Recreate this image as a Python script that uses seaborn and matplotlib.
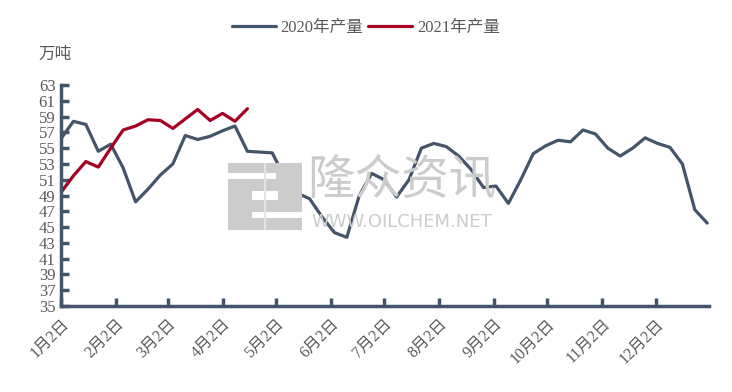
import matplotlib
matplotlib.use("Agg")
import matplotlib.pyplot as plt
import seaborn as sns
import pandas as pd
from matplotlib.patches import Rectangle

# weekly production, 万吨 (x = days since 1月2日)
weeks_2020 = list(range(0, 365, 7))
prod_2020 = [
    56.2, 58.4, 58.0, 54.6, 55.5, 52.5, 48.2, 49.8, 51.6, 53.0,
    56.6, 56.1, 56.5, 57.2, 57.8, 54.6, 54.5, 54.4, 51.3, 49.3,
    48.6, 46.3, 44.3, 43.7, 49.0, 51.8, 51.0, 48.8, 51.0, 55.0,
    55.6, 55.2, 54.0, 52.3, 50.0, 50.2, 48.0, 51.0, 54.3, 55.3,
    56.0, 55.8, 57.3, 56.8, 55.0, 54.0, 55.0, 56.3, 55.6, 55.1,
    53.0, 47.2, 45.5,
]
prod_2021 = [
    49.4, 51.5, 53.3, 52.6, 55.0, 57.3, 57.8, 58.6, 58.5, 57.5,
    58.7, 59.9, 58.5, 59.4, 58.4, 60.0,
]
weeks_2021 = weeks_2020[:len(prod_2021)]

tick_days = [0, 31, 60, 91, 121, 152, 182, 213, 244, 274, 305, 335]
tick_labels = ["1月2日", "2月2日", "3月2日", "4月2日", "5月2日", "6月2日",
               "7月2日", "8月2日", "9月2日", "10月2日", "11月2日", "12月2日"]
y_ticks = list(range(35, 64, 2))

series_names = ["2020年产量", "2021年产量"]
colors = ["#44546A", "#A50021"]

df = pd.concat([
    pd.DataFrame({"day": weeks_2020, "value": prod_2020, "series": series_names[0]}),
    pd.DataFrame({"day": weeks_2021, "value": prod_2021, "series": series_names[1]}),
])

sns.set_theme(style="white")
plt.rcParams["font.family"] = ["Liberation Serif", "Noto Sans CJK SC", "DejaVu Sans"]

W, H = 732, 392
fig = plt.figure(figsize=(W / 100, H / 100), dpi=100)
ax = fig.add_axes([61 / W, 86 / H, 648 / W, 221 / H])


def px_rect(x0, y0, x1, y1, color):
    # rectangle given in image pixels (origin top-left)
    fig.patches.append(Rectangle((x0 / W, 1 - y1 / H), (x1 - x0) / W, (y1 - y0) / H,
                                 transform=fig.transFigure, facecolor=color,
                                 edgecolor="none", zorder=0))


# watermark logo + text
wm = "#cccccc"
px_rect(228, 163, 302, 230, wm)
px_rect(228, 173, 276, 179, "white")
px_rect(252, 191, 278, 200, "white")
px_rect(252, 212, 302, 218, "white")
px_rect(264, 163, 265.5, 230, "#e4e4e4")
fig.text(402 / W, 1 - 181 / H, "隆众资讯", fontsize=34, color=wm,
         family=["Noto Sans CJK SC"], ha="center", va="center", zorder=0)
fig.text(402 / W, 1 - 222 / H, "WWW.OILCHEM.NET", fontsize=13, color=wm,
         family=["DejaVu Sans"], ha="center", va="center", zorder=0)

sns.lineplot(data=df, x="day", y="value", hue="series", palette=colors,
             linewidth=2.3, ax=ax, legend=True)
ax.patch.set_alpha(0)

ax.set_xlim(0, 365)
ax.set_ylim(35, 63)
ax.set_yticks(y_ticks)
ax.set_xticks(tick_days)
ax.set_xticklabels(tick_labels, rotation=45, ha="right", rotation_mode="anchor")
ax.set_xlabel("")
ax.set_ylabel("")

axis_color = "#44546A"
for side in ["top", "right"]:
    ax.spines[side].set_visible(False)
for side in ["left", "bottom"]:
    ax.spines[side].set_color(axis_color)
    ax.spines[side].set_linewidth(2.5)
ax.tick_params(axis="both", direction="in", length=6, width=2.5, color=axis_color,
               labelcolor="#595959")
ax.tick_params(axis="y", labelsize=12, pad=4)
ax.tick_params(axis="x", labelsize=11.5, pad=7)
ax.tick_params(axis="x", which="both", bottom=True)
ax.tick_params(axis="y", which="both", left=True)

fig.text(38 / W, 1 - 55 / H, "万吨", fontsize=12, color="#595959",
         ha="left", va="center")

handles, labels = ax.get_legend_handles_labels()
ax.legend(handles, labels, loc="center", bbox_to_anchor=(0.5, 1 - 28 / H),
          bbox_transform=fig.transFigure, ncol=2, frameon=False,
          fontsize=12, handlelength=2.6, columnspacing=0.3, handletextpad=0.3,
          labelcolor="#595959")

fig.savefig("out.png", dpi=100)
